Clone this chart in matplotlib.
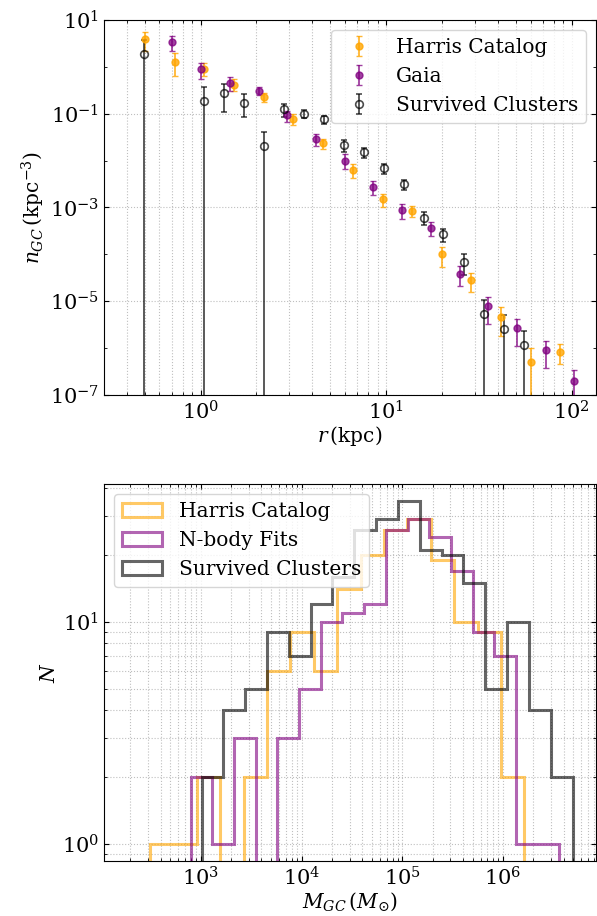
from __future__ import annotations

import matplotlib

matplotlib.use("Agg")
import matplotlib.pyplot as plt
import numpy as np
from matplotlib.ticker import FixedLocator, LogLocator, NullFormatter


# radial number density (top panel)
R_HARRIS = [0.50, 0.726, 1.05, 1.52, 2.19, 3.16, 4.55, 6.6, 9.58, 13.8, 19.9, 28.7, 41.4, 60.3, 86.8]
N_HARRIS = [3.9, 1.28, 0.92, 0.419, 0.228, 0.078, 0.0235, 0.0064, 1.48e-3, 8.4e-4,
            1.0e-4, 2.8e-5, 4.6e-6, 5.0e-7, 8.4e-7]
E_HARRIS = [1.77, 0.65, 0.29, 0.12, 0.05, 0.02, 0.006, 0.0021, 4.7e-4, 2.2e-4,
            4.5e-5, 1.2e-5, 2.75e-6, 5.0e-7, 3.8e-7]

R_GAIA = [0.703, 1.01, 1.44, 2.06, 2.94, 4.19, 6.0, 8.53, 12.2, 17.4, 25.0, 35.5, 50.5, 72.4, 103]
N_GAIA = [3.33, 0.88, 0.46, 0.31, 0.092, 0.0286, 0.0100, 2.77e-3, 8.8e-4, 3.7e-4,
          3.9e-5, 7.8e-6, 2.7e-6, 9.1e-7, 2.0e-7]
E_GAIA = [1.17, 0.34, 0.15, 0.06, 0.024, 0.0078, 0.0035, 9.5e-4, 3e-4, 1.2e-4,
          1.8e-5, 4.5e-6, 1.57e-6, 5.3e-7, 1.4e-7]

R_SURV = [0.497, 1.05, 1.34, 1.72, 2.19, 2.81, 3.62, 4.64, 5.95, 7.59, 9.73, 12.5,
          15.9, 20.3, 26.3, 33.6, 43.2, 55.3]
N_SURV = [1.84, 0.19, 0.273, 0.172, 0.02, 0.124, 0.1, 0.076, 0.0217, 0.0151, 6.9e-3,
          3.1e-3, 6.1e-4, 2.7e-4, 6.9e-5, 5.4e-6, 2.5e-6, 1.18e-6]
E_SURV = [1.84, 0.19, 0.163, 0.087, 0.02, 0.04, 0.02, 0.015, 0.0062, 0.0035, 1.6e-3,
          7e-4, 1.8e-4, 8.6e-5, 3.2e-5, 5.4e-6, 2.5e-6, 1.18e-6]

DENSITY_YTICKS = [1e1, 1e-1, 1e-3, 1e-5, 1e-7]

# mass histograms (bottom panel): log10 bin range + counts
HARRIS_LOGM = (2.495, 6.212)
HARRIS_COUNTS = [1, 1, 2, 0, 2, 6, 9, 6, 14, 20, 26, 29, 19, 10, 9, 2]

NBODY_LOGM = (2.898, 6.560)
NBODY_COUNTS = [2, 1, 3, 0, 3, 5, 10, 11, 12, 26, 29, 24, 17, 9, 7, 1, 1]

SURV_LOGM = (3.007, 6.691)
SURV_COUNTS = [2, 4, 5, 9, 7, 12, 16, 26, 29, 35, 21, 20, 15, 5, 10, 4, 2]

FS = 14.5
TICK_FS = 15

plt.rcParams["font.family"] = ["DejaVu Serif"]
plt.rcParams["mathtext.fontset"] = "dejavuserif"
plt.rcParams["font.size"] = FS


def style_axes(ax, ygrid="both"):
    ax.set_xscale("log")
    ax.set_yscale("log")
    ax.tick_params(which="both", direction="in", top=True, right=True, labelsize=TICK_FS)
    ax.grid(True, axis="x", which="both", ls=":", lw=0.8, color="0.75")
    ax.grid(True, axis="y", which=ygrid, ls=":", lw=0.8, color="0.75")
    ax.set_axisbelow(True)


def plot_density(ax):
    style_axes(ax, ygrid="major")
    ax.errorbar(R_HARRIS, N_HARRIS, yerr=E_HARRIS, fmt="o", color="orange", alpha=0.8,
                ms=5, capsize=2, elinewidth=1.3, label="Harris Catalog")
    ax.errorbar(R_GAIA, N_GAIA, yerr=E_GAIA, fmt="o", color="purple", alpha=0.75,
                ms=5, capsize=2, elinewidth=1.3, label="Gaia")
    ax.errorbar(R_SURV, N_SURV, yerr=E_SURV, fmt="o", color="k", mfc="none", alpha=0.7,
                ms=5.5, mew=1.2, capsize=2, elinewidth=1.3, label="Survived Clusters")
    ax.set_xlim(0.302, 135)
    ax.set_ylim(1e-7, 1e1)
    ax.yaxis.set_major_locator(FixedLocator(DENSITY_YTICKS))
    ax.yaxis.set_minor_locator(LogLocator(base=10, subs=(1.0,), numticks=20))
    ax.yaxis.set_minor_formatter(NullFormatter())
    ax.set_xlabel(r"$r\,(\mathrm{kpc})$", fontsize=FS, labelpad=1)
    ax.set_ylabel(r"$n_{GC}\,(\mathrm{kpc}^{-3})$", fontsize=FS, labelpad=2)
    ax.legend(loc="upper right", fontsize=FS)


def plot_mass(ax):
    style_axes(ax, ygrid="both")
    hists = [
        (HARRIS_LOGM, HARRIS_COUNTS, "orange", "Harris Catalog"),
        (NBODY_LOGM, NBODY_COUNTS, "purple", "N-body Fits"),
        (SURV_LOGM, SURV_COUNTS, "k", "Survived Clusters"),
    ]
    for (lo, hi), counts, color, label in hists:
        edges = np.logspace(lo, hi, len(counts) + 1)
        centers = np.sqrt(edges[:-1] * edges[1:])
        ax.hist(centers, bins=edges, weights=counts, histtype="step",
                color=color, alpha=0.6, lw=2.2, label=label)
    ax.set_xlim(109.4, 8.37e6)
    ax.set_ylim(0.834, 41.8)
    ax.set_xlabel(r"$M_{GC}\,(M_{\odot})$", fontsize=FS, labelpad=1)
    ax.set_ylabel(r"$N$", fontsize=FS, labelpad=2)
    ax.legend(loc="upper left", fontsize=FS)


def main() -> None:
    fig = plt.figure(figsize=(5.97, 9.16), dpi=100)
    ax_top = fig.add_axes([0.1742, 0.5688, 0.8241, 0.4094])
    ax_bot = fig.add_axes([0.1742, 0.0600, 0.8241, 0.4116])
    plot_density(ax_top)
    plot_mass(ax_bot)
    fig.savefig("out.png", dpi=100)
    plt.close(fig)


if __name__ == "__main__":
    main()
